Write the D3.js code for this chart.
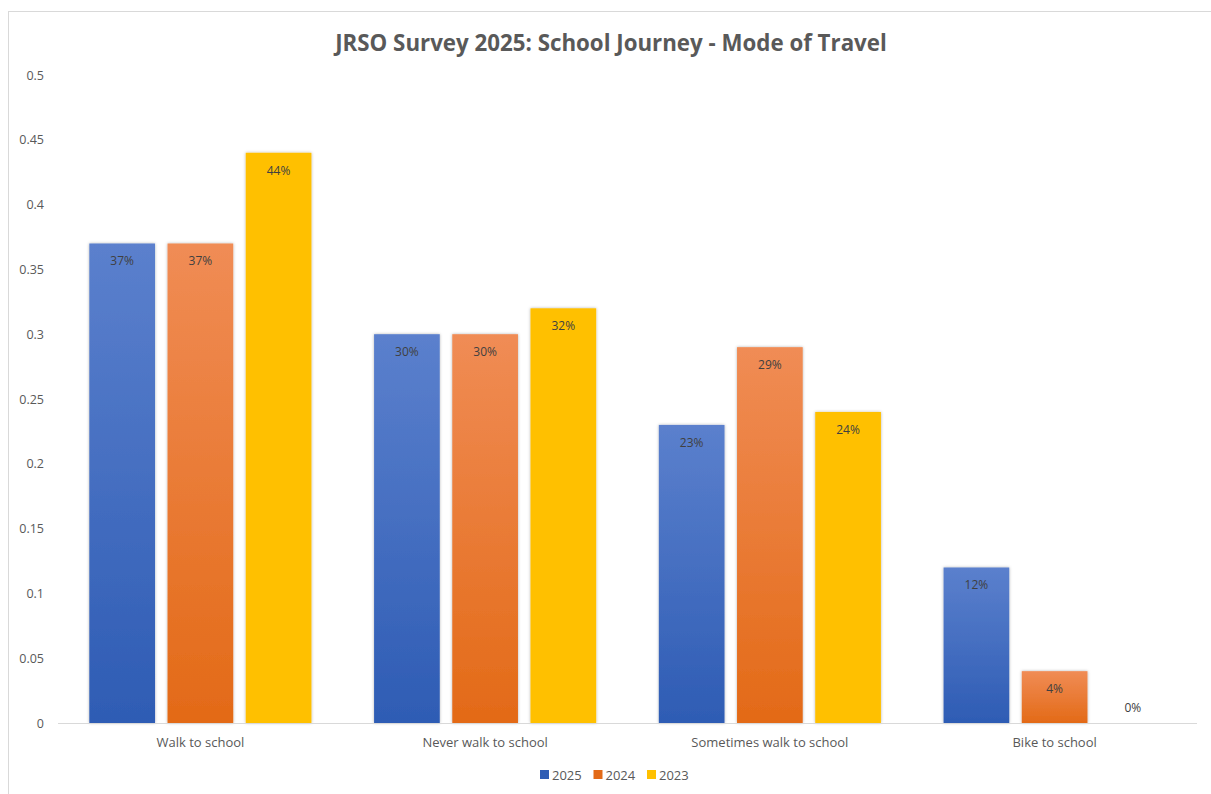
<!DOCTYPE html>
<html>
<head>
<meta charset="utf-8">
<script src="https://cdn.jsdelivr.net/npm/d3@7/dist/d3.min.js"></script>
<style>
  html, body { margin: 0; padding: 0; background: #fff; }
  svg { display: block; }
</style>
</head>
<body>
<svg id="chart" width="1211" height="794"></svg>
<script>
const title = "JRSO Survey 2025: School Journey - Mode of Travel";
const categories = ["Walk to school", "Never walk to school", "Sometimes walk to school", "Bike to school"];
const seriesNames = ["2025", "2024", "2023"];
const values2025 = [0.37, 0.30, 0.23, 0.12];
const values2024 = [0.37, 0.30, 0.29, 0.04];
const values2023 = [0.44, 0.32, 0.24, 0.00];
const yTicks = [0, 0.05, 0.1, 0.15, 0.2, 0.25, 0.3, 0.35, 0.4, 0.45, 0.5];

const seriesValues = [values2025, values2024, values2023];
const colorsTop = ["#5b80cd", "#f08c55", "#ffc000"];
const colorsBottom = ["#2e5cb4", "#e36a17", "#ffc000"];

const svg = d3.select("#chart");
const font = "'Open Sans', 'Liberation Sans', sans-serif";

// chart border
svg.append("rect").attr("x", 8.5).attr("y", 11.5).attr("width", 1215).attr("height", 800)
  .attr("fill", "#fff").attr("stroke", "#d9d9d9").attr("stroke-width", 1);

const defs = svg.append("defs");
seriesNames.forEach((s, i) => {
  const g = defs.append("linearGradient").attr("id", "grad" + i)
    .attr("x1", 0).attr("y1", 0).attr("x2", 0).attr("y2", 1);
  g.append("stop").attr("offset", "0%").attr("stop-color", colorsTop[i]);
  g.append("stop").attr("offset", "100%").attr("stop-color", colorsBottom[i]);
});
const f = defs.append("filter").attr("id", "shadow").attr("x", "-20%").attr("y", "-20%").attr("width", "140%").attr("height", "140%");
f.append("feDropShadow").attr("dx", 0).attr("dy", 0).attr("stdDeviation", 1.5)
  .attr("flood-color", "#000").attr("flood-opacity", 0.3);

const margin = { left: 58, right: 14, top: 75, bottom: 71 };
const W = 1211, H = 794;
const x0 = d3.scaleBand().domain(categories).range([margin.left, W - margin.right])
  .paddingInner(0.22).paddingOuter(0.11);
const x1 = d3.scaleBand().domain(seriesNames).range([0, x0.bandwidth()]).paddingInner(0.16);
const y = d3.scaleLinear().domain([0, 0.5]).range([H - margin.bottom, margin.top]);

// title
svg.append("text").attr("x", 611).attr("y", 51).attr("text-anchor", "middle")
  .attr("font-family", font).attr("font-weight", "bold").attr("font-size", 22.3)
  .attr("fill", "#595959").text(title);

// y axis labels
const yAxis = d3.axisLeft(y).tickValues(yTicks).tickSize(0).tickPadding(0)
  .tickFormat(d => String(+d.toFixed(2)));
const ya = svg.append("g").attr("transform", `translate(44,0)`).call(yAxis);
ya.select(".domain").remove();
ya.selectAll("text").attr("font-family", font).attr("font-size", 12.5).attr("fill", "#595959");

// bars
const groups = svg.append("g").selectAll("g").data(categories).join("g")
  .attr("transform", d => `translate(${x0(d)},0)`);
groups.selectAll("rect").data((c, ci) => seriesNames.map((s, si) => ({ s, si, v: seriesValues[si][ci] })))
  .join("rect")
  .filter(d => d.v > 0)
  .attr("x", d => x1(d.s)).attr("width", x1.bandwidth())
  .attr("y", d => y(d.v)).attr("height", d => y(0) - y(d.v))
  .attr("fill", d => `url(#grad${d.si})`).attr("filter", "url(#shadow)");

// x axis line
const xa = svg.append("g").attr("transform", `translate(0,${y(0)})`)
  .call(d3.axisBottom(x0).tickSize(0).tickPadding(15));
xa.select(".domain").attr("stroke", "#d9d9d9").attr("d", `M${margin.left},0.5H${W - margin.right}`);
xa.selectAll("text").attr("font-family", font).attr("font-size", 13).attr("fill", "#595959");

// data labels
groups.selectAll("text.lbl").data((c, ci) => seriesNames.map((s, si) => ({ s, si, v: seriesValues[si][ci] })))
  .join("text").attr("class", "lbl")
  .attr("x", d => x1(d.s) + x1.bandwidth() / 2)
  .attr("y", d => d.v > 0 ? y(d.v) + 22 : y(0) - 11)
  .attr("text-anchor", "middle")
  .attr("font-family", font).attr("font-size", 12).attr("fill", "#404040")
  .text(d => Math.round(d.v * 100) + "%");

// legend
const legend = svg.append("g").attr("transform", "translate(540,775)");
const items = legend.selectAll("g").data(seriesNames).join("g")
  .attr("transform", (d, i) => `translate(${i * 53.5},0)`);
items.append("rect").attr("x", 0).attr("y", -5).attr("width", 9).attr("height", 9)
  .attr("fill", (d, i) => colorsBottom[i]);
items.append("text").attr("x", 12).attr("y", 4.5)
  .attr("font-family", font).attr("font-size", 13).attr("fill", "#595959").text(d => d);
</script>
</body>
</html>
